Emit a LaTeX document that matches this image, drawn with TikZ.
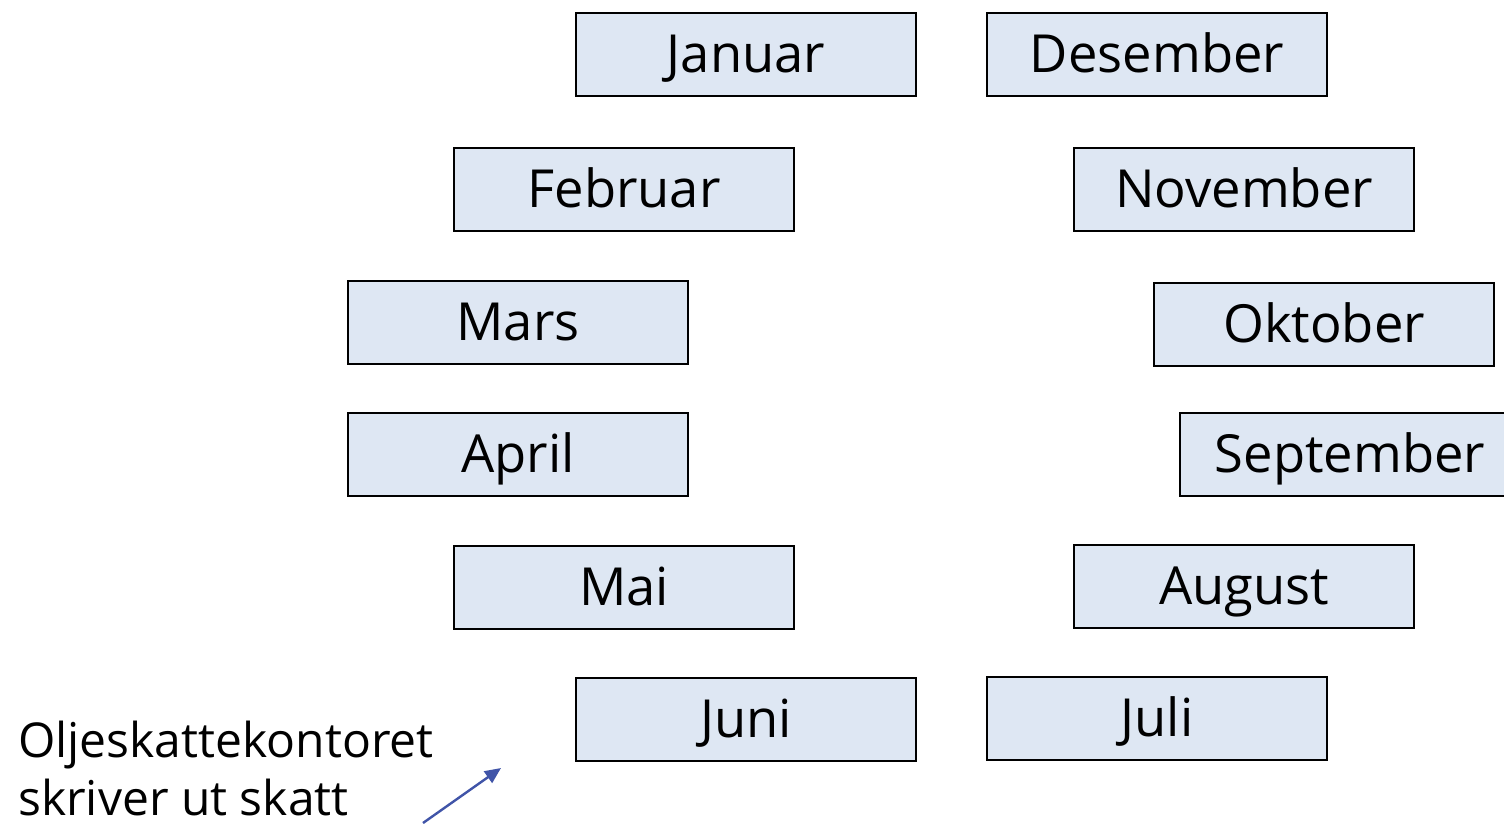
\documentclass[tikz,border=0pt]{standalone}
\usepackage{fontspec}
\setmainfont{Open Sans}
\usetikzlibrary{arrows.meta}
\definecolor{boxfill}{RGB}{222,231,243}
\definecolor{arrowblue}{RGB}{64,84,168}
\tikzset{
  month/.style={draw=black, line width=1.5pt, fill=boxfill, minimum width=340pt, minimum height=83pt, inner sep=0pt, text height=35pt, text depth=0pt, font=\fontsize{52.5}{60}\selectfont},
  note/.style={anchor=base west, align=left, inner sep=0pt, font=\fontsize{48}{58}\selectfont}
}
\begin{document}
\begin{tikzpicture}[x=1pt,y=-1pt]
\useasboundingbox (0,0) rectangle (1504,823);
\node[month] (jan) at (746,54.5) {Januar};
\node[month] (des) at (1157,54.5) {Desember};
\node[month] (feb) at (624,189.5) {Februar};
\node[month] (nov) at (1244,189.5) {November};
\node[month] (mar) at (518,322.5) {Mars};
\node[month] (okt) at (1324,324.5) {Oktober};
\node[month] (apr) at (518,454.5) {April};
\node[month] (sep) at (1350,454.5) {September};
\node[month] (mai) at (624,587.5) {Mai};
\node[month] (aug) at (1244,586.5) {August};
\node[month] (jun) at (746,719.5) {Juni};
\node[month] (jul) at (1157,718.5) {Juli};
\node[note] (txt) at (18,815) {Oljeskattekontoret\\skriver ut skatt};
\coordinate (a0) at (423,823);
\coordinate (a1) at (501,768);
\draw[arrowblue, line width=2.4pt, -{Triangle[length=16pt,width=14pt]}] (a0) -- (a1);
\end{tikzpicture}
\end{document}
